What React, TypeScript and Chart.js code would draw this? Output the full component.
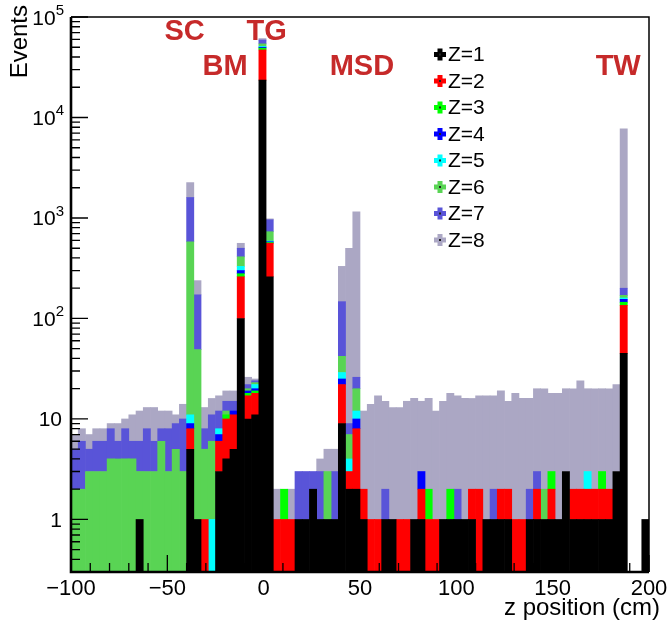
import { useEffect, useRef } from 'react';
import { Chart, registerables } from 'chart.js';

Chart.register(...registerables);

const FONT = '"Liberation Sans", Arial, Helvetica, sans-serif';

// Binning of the z axis (cm)
const X_MIN = -100;
const X_MAX = 200;
const BIN_WIDTH = 3.75;
const N_BINS = 80;
const binCenters: number[] = Array.from({ length: N_BINS }, (_, i) => X_MIN + BIN_WIDTH * (i + 0.5));

// Events per bin for each charge Z (stacked)
const z1 = [
  0, 0, 0, 0, 0, 0, 0, 0, 0, 1,
  0, 0, 0, 0, 0, 0, 5, 1, 0, 0,
  3, 4, 5, 100, 10, 11, 23500, 260, 0, 0,
  0, 1, 1, 2, 1, 1, 1, 9, 2, 2,
  1, 0, 0, 1, 1, 0, 0, 1, 1, 0,
  0, 1, 1, 1, 1, 1, 0, 1, 1, 1,
  1, 0, 0, 1, 1, 1, 1, 1, 3, 1,
  1, 1, 1, 1, 1, 3, 45, 0, 0, 1,
];
const z2 = [
  0, 0, 0, 0, 0, 0, 0, 0, 0, 0,
  0, 0, 0, 0, 0, 0, 3, 0, 1, 0,
  3, 6, 6, 160, 7, 7, 23500, 300, 1, 1,
  1, 0, 0, 0, 0, 0, 0, 13, 1, 6,
  1, 1, 1, 0, 0, 1, 1, 0, 1, 1,
  1, 0, 0, 0, 0, 1, 2, 0, 0, 1,
  1, 1, 1, 0, 1, 0, 1, 0, 0, 1,
  1, 1, 1, 1, 1, 0, 90, 0, 0, 0,
];
const z3 = [
  0, 0, 0, 0, 0, 0, 0, 0, 0, 0,
  0, 0, 0, 0, 0, 0, 0, 0, 0, 0,
  0, 1, 0, 19, 1, 1, 2000, 10, 0, 1,
  0, 0, 0, 0, 0, 0, 0, 0, 0, 0,
  0, 0, 0, 0, 0, 0, 0, 0, 0, 1,
  0, 0, 1, 0, 0, 0, 0, 0, 0, 0,
  0, 0, 0, 0, 0, 0, 1, 0, 0, 0,
  0, 0, 0, 1, 0, 0, 10, 0, 0, 0,
];
const z4 = [
  0, 0, 0, 0, 0, 0, 0, 0, 0, 0,
  0, 0, 0, 0, 0, 0, 1, 0, 0, 0,
  1, 0, 1, 21, 1, 1, 1000, 10, 0, 0,
  0, 0, 0, 0, 0, 0, 0, 3, 0, 2,
  0, 0, 0, 0, 0, 0, 0, 0, 1, 0,
  0, 0, 0, 0, 0, 0, 0, 0, 0, 0,
  0, 0, 0, 0, 0, 0, 0, 0, 0, 0,
  0, 0, 0, 0, 0, 0, 10, 0, 0, 0,
];
const z5 = [
  0, 0, 0, 0, 0, 0, 0, 0, 0, 0,
  0, 0, 0, 0, 0, 0, 2, 0, 0, 1,
  1, 0, 0, 30, 0, 2, 1000, 10, 0, 0,
  0, 0, 0, 0, 0, 0, 0, 4, 1, 2,
  0, 0, 0, 0, 0, 0, 0, 0, 0, 0,
  0, 0, 0, 0, 0, 0, 0, 0, 0, 0,
  0, 0, 0, 0, 0, 0, 0, 0, 0, 0,
  0, 1, 0, 0, 0, 0, 5, 0, 0, 0,
];
const z6 = [
  2, 2, 3, 3, 3, 4, 4, 4, 4, 2,
  3, 3, 6, 3, 5, 3, 569, 48, 4, 5,
  0, 1, 0, 81, 1, 1, 3000, 140, 0, 0,
  0, 0, 0, 0, 0, 2, 0, 13, 3, 8,
  0, 0, 0, 0, 0, 0, 0, 0, 0, 0,
  0, 0, 0, 0, 0, 0, 0, 0, 0, 0,
  0, 0, 0, 0, 0, 1, 0, 0, 0, 0,
  0, 0, 0, 0, 0, 0, 10, 0, 0, 0,
];
const z7 = [
  3, 4, 2, 3, 3, 4, 2, 4, 2, 3,
  5, 3, 2, 5, 4, 7, 1020, 123, 3, 5,
  4, 3, 3, 89, 2, 1, 5000, 230, 0, 0,
  0, 2, 2, 1, 2, 0, 2, 105, 2, 6,
  0, 0, 0, 1, 0, 0, 0, 0, 0, 0,
  0, 0, 0, 1, 0, 0, 0, 0, 1, 0,
  0, 0, 0, 1, 1, 0, 0, 0, 0, 0,
  0, 0, 0, 0, 0, 0, 30, 0, 0, 0,
];
const z8 = [
  2, 2, 2, 2, 2, 1, 3, 2, 5, 6,
  5, 7, 4, 4, 2, 4, 650, 66, 5, 5,
  5, 4, 4, 60, 4, 1, 2000, 20, 1, 0,
  1, 0, 0, 0, 1, 2, 2, 183, 491, 1124,
  10, 13, 16, 13, 12, 12, 14, 15, 12, 14,
  11, 14, 16, 15, 15, 14, 15, 16, 15, 17,
  13, 17, 15, 14, 17, 18, 15, 17, 17, 18,
  22, 17, 18, 17, 18, 19, 7500, 0, 0, 0,
];

const seriesLabels = ['Z=1', 'Z=2', 'Z=3', 'Z=4', 'Z=5', 'Z=6', 'Z=7', 'Z=8'];
const seriesColors = ['#000000', '#ff0000', '#00ff00', '#0000ff', '#00ffff', '#59d454', '#5954d8', '#aba7c4'];

// Y axis decade labels (exponents of 10)
const yDecades = [0, 1, 2, 3, 4, 5];

// Detector annotations (text, z position in cm, row)
const detectorLabels = ['SC', 'BM', 'TG', 'MSD', 'TW'];
const detectorZ = [-41, -20, 1.5, 51, 184];
const detectorRow = [0, 1, 0, 1, 1];

const X_TITLE = 'z position (cm)';
const Y_TITLE = 'Events';

function fmtX(v: number): string {
  return v < 0 ? '\u2212' + Math.abs(v) : String(v);
}

const decorPlugin = {
  id: 'rootDecor',
  afterDatasetsDraw(chart: any) {
    const { ctx, chartArea: a } = chart;
    const x = chart.scales.x;
    const y = chart.scales.y;
    ctx.save();
    ctx.strokeStyle = '#000';
    // ticks on x (inward)
    ctx.lineWidth = 1.3;
    ctx.beginPath();
    for (let v = X_MIN; v <= X_MAX; v += 10) {
      const px = x.getPixelForValue(v);
      const len = v % 50 === 0 ? 17 : 9;
      ctx.moveTo(px, a.bottom);
      ctx.lineTo(px, a.bottom - len);
    }
    // ticks on y (inward)
    for (let e = -1; e <= 5; e++) {
      for (let m = 1; m <= 9; m++) {
        const v = m * Math.pow(10, e);
        if (v < 0.3 - 1e-9 || v > 1e5 + 1e-6) continue;
        const py = y.getPixelForValue(v);
        const len = m === 1 ? 17 : 9;
        ctx.moveTo(a.left, py);
        ctx.lineTo(a.left + len, py);
      }
    }
    ctx.stroke();
    // frame
    ctx.lineWidth = 1.5;
    ctx.beginPath();
    ctx.moveTo(a.left, a.top);
    ctx.lineTo(a.right, a.top);
    ctx.lineTo(a.right, a.bottom);
    ctx.stroke();
    ctx.lineWidth = 2.6;
    ctx.beginPath();
    ctx.moveTo(a.left, a.top);
    ctx.lineTo(a.left, a.bottom);
    ctx.lineTo(a.right, a.bottom);
    ctx.stroke();
    ctx.restore();
  },
  afterDraw(chart: any) {
    const { ctx } = chart;
    const x = chart.scales.x;
    const y = chart.scales.y;
    ctx.save();
    // y decade labels with superscript exponents
    ctx.fillStyle = '#000';
    ctx.textBaseline = 'alphabetic';
    ctx.textAlign = 'right';
    yDecades.forEach((e) => {
      const py = y.getPixelForValue(Math.pow(10, e));
      if (e === 0) {
        ctx.font = `21px ${FONT}`;
        ctx.fillText('1', 62, py + 7.5);
        return;
      }
      if (e === 1) {
        ctx.font = `21px ${FONT}`;
        ctx.fillText('10', 62, py + 7.5);
        return;
      }
      const exp = String(e);
      ctx.font = `15px ${FONT}`;
      const w = ctx.measureText(exp).width;
      ctx.fillText(exp, 64, py - 2);
      ctx.font = `21px ${FONT}`;
      ctx.fillText('10', 64 - w, py + 7.5);
    });
    // detector labels
    ctx.fillStyle = '#c62a2a';
    ctx.font = `bold 29px ${FONT}`;
    ctx.textAlign = 'center';
    ctx.textBaseline = 'alphabetic';
    detectorLabels.forEach((t, i) => {
      const px = x.getPixelForValue(detectorZ[i]);
      ctx.fillText(t, px, detectorRow[i] === 0 ? 40 : 75);
    });
    // legend
    ctx.font = `21px ${FONT}`;
    ctx.textAlign = 'left';
    ctx.textBaseline = 'middle';
    seriesLabels.forEach((t, i) => {
      const cy = 54.5 + 26.5 * i;
      const cx = 440;
      ctx.fillStyle = seriesColors[i];
      ctx.fillRect(cx - 6, cy - 2.5, 12, 5);
      ctx.fillRect(cx - 2.5, cy - 6, 5, 12);
      ctx.fillStyle = '#222';
      ctx.fillRect(cx - 1, cy - 1, 2, 2);
      ctx.fillStyle = '#000';
      ctx.fillText(t, 448, cy + 1);
    });
    // axis titles
    ctx.fillStyle = '#000';
    ctx.font = `24px ${FONT}`;
    ctx.textAlign = 'right';
    ctx.textBaseline = 'alphabetic';
    ctx.fillText(X_TITLE, 660, 615);
    ctx.save();
    ctx.translate(27, 5);
    ctx.rotate(-Math.PI / 2);
    ctx.textAlign = 'right';
    ctx.fillText(Y_TITLE, 0, 0);
    ctx.restore();
    ctx.restore();
  },
};

export default function App() {
  const ref = useRef<HTMLCanvasElement>(null);
  useEffect(() => {
    document.body.style.margin = '0';
    const canvas = ref.current;
    if (!canvas) return;
    const series = [z1, z2, z3, z4, z5, z6, z7, z8];
    const chart = new Chart(canvas, {
      type: 'bar',
      data: {
        datasets: series.map((vals, k) => ({
          label: seriesLabels[k],
          data: vals.map((v, i) => ({ x: binCenters[i], y: v })),
          backgroundColor: seriesColors[k],
          borderWidth: 0,
          barPercentage: 1,
          categoryPercentage: 1,
        })),
      },
      options: {
        responsive: false,
        animation: false,
        events: [],
        layout: { padding: { left: 0, top: 17, right: 18, bottom: 0 } },
        plugins: { legend: { display: false }, tooltip: { enabled: false } },
        scales: {
          x: {
            type: 'linear',
            min: X_MIN,
            max: X_MAX,
            offset: false,
            stacked: true,
            grid: { display: false, drawTicks: false, offset: false },
            border: { display: false },
            ticks: {
              stepSize: 50,
              autoSkip: false,
              maxRotation: 0,
              padding: 4,
              color: '#000',
              font: { family: FONT, size: 22 },
              callback: (v: any) => fmtX(Number(v)),
            },
            afterFit: (s: any) => {
              s.height = 49;
              s.paddingLeft = 0;
              s.paddingRight = 0;
            },
          },
          y: {
            type: 'logarithmic',
            min: 0.3,
            max: 1e5,
            stacked: true,
            grid: { display: false, drawTicks: false },
            border: { display: false },
            ticks: { display: false },
            afterFit: (s: any) => {
              s.width = 71;
              s.paddingTop = 0;
              s.paddingBottom = 0;
            },
          },
        },
      } as any,
      plugins: [decorPlugin],
    });
    return () => chart.destroy();
  }, []);
  return <canvas ref={ref} width={667} height={621} style={{ display: 'block' }} />;
}
